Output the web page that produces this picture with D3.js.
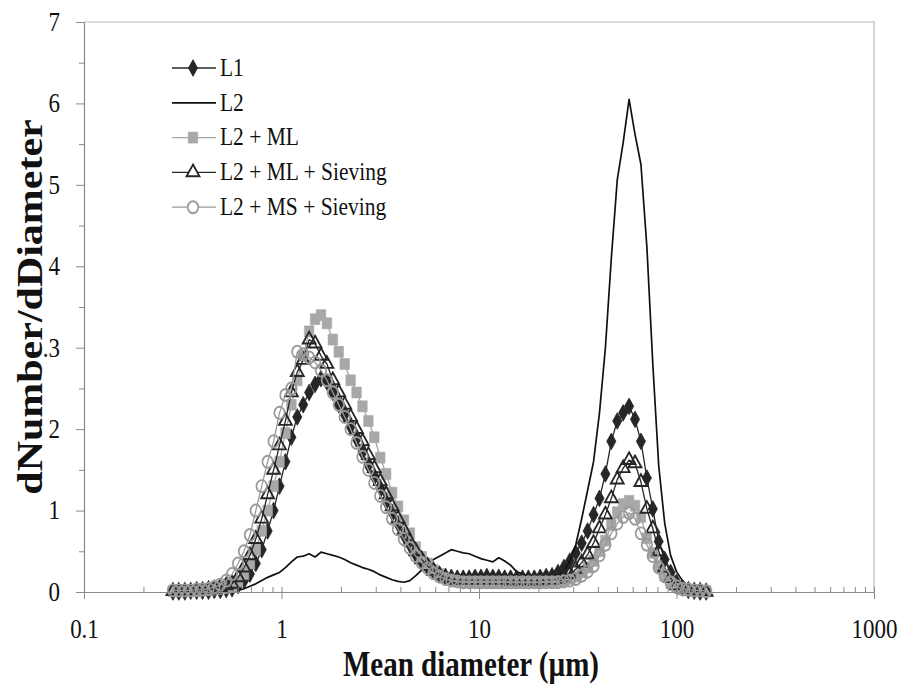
<!DOCTYPE html>
<html>
<head>
<meta charset="utf-8">
<script src="https://cdn.jsdelivr.net/npm/d3@7"></script>
<style>
  html, body { margin: 0; padding: 0; background: #fff; }
  svg { display: block; }
  text { font-family: "Liberation Serif", "Times New Roman", serif; fill: #111; }
</style>
</head>
<body>
<div id="chart"></div>
<script>

// size bins (µm), shared by every series
const diameters = [
  0.282, 0.302, 0.324, 0.347, 0.372, 0.398, 0.427, 0.457, 0.490, 0.525,
  0.562, 0.603, 0.646, 0.692, 0.741, 0.794, 0.851, 0.912, 0.977, 1.047,
  1.122, 1.202, 1.288, 1.380, 1.479, 1.585, 1.698, 1.820, 1.950, 2.089,
  2.239, 2.399, 2.570, 2.754, 2.951, 3.162, 3.388, 3.631, 3.890, 4.169,
  4.467, 4.786, 5.129, 5.495, 5.888, 6.310, 6.761, 7.244, 7.762, 8.318,
  8.913, 9.550, 10.23, 10.96, 11.75, 12.59, 13.49, 14.45, 15.49, 16.60,
  17.78, 19.05, 20.42, 21.88, 23.44, 25.12, 26.92, 28.84, 30.90, 33.11,
  35.48, 38.02, 40.74, 43.65, 46.77, 50.12, 53.70, 57.54, 61.66, 66.07,
  70.79, 75.86, 81.28, 87.10, 93.33, 100.0, 107.2, 114.8, 123.0, 131.8, 141.3
]

// L1 (filled diamonds)
const l1 = [
  0, 0, 0, 0.01, 0.01, 0.01, 0.01, 0.02, 0.02, 0.03,
  0.04, 0.08, 0.14, 0.22, 0.35, 0.52, 0.75, 1.0, 1.3, 1.6,
  1.9, 2.15, 2.3, 2.45, 2.55, 2.62, 2.58, 2.45, 2.3, 2.18,
  2.03, 1.88, 1.72, 1.56, 1.42, 1.28, 1.12, 0.98, 0.84, 0.7,
  0.58, 0.46, 0.37, 0.3, 0.25, 0.21, 0.19, 0.18, 0.17, 0.17,
  0.17, 0.18, 0.18, 0.19, 0.18, 0.18, 0.17, 0.17, 0.17, 0.17,
  0.17, 0.17, 0.18, 0.19, 0.2, 0.24, 0.3, 0.38, 0.48, 0.6,
  0.75, 0.95, 1.15, 1.45, 1.85, 2.1, 2.2, 2.28, 2.12, 1.85,
  1.4, 1.02, 0.62, 0.4, 0.24, 0.12, 0.05, 0.02, 0.01, 0, 0
]

// L2 (plain line)
const l2 = [
  null, null, null, null, null, null, null, null, null, 0,
  0.01, 0.02, 0.04, 0.07, 0.1, 0.14, 0.18, 0.21, 0.24, 0.3,
  0.37, 0.43, 0.44, 0.47, 0.43, 0.49, 0.47, 0.45, 0.43, 0.4,
  0.36, 0.33, 0.3, 0.28, 0.25, 0.21, 0.18, 0.15, 0.13, 0.12,
  0.14, 0.2, 0.27, 0.34, 0.4, 0.44, 0.48, 0.52, 0.5, 0.48,
  0.47, 0.44, 0.41, 0.39, 0.37, 0.42, 0.38, 0.33, 0.25, 0.22,
  0.2, 0.18, 0.17, 0.16, 0.17, 0.2, 0.26, 0.38, 0.58, 0.9,
  1.25, 1.6, 2.2, 3.0, 4.1, 5.06, 5.52, 6.05, 5.62, 5.25,
  4.24, 2.8, 1.55, 0.85, 0.45, 0.25, 0.14, 0.07, 0.03, 0, null
]

// L2 + ML (grey squares)
const l2Ml = [
  0.01, 0.01, 0.01, 0.01, 0.01, 0.02, 0.02, 0.03, 0.04, 0.05,
  0.07, 0.13, 0.22, 0.35, 0.52, 0.75, 1.0, 1.3, 1.6, 1.95,
  2.3, 2.6, 2.9, 3.2, 3.35, 3.4, 3.3, 3.1, 2.95, 2.8,
  2.6, 2.45, 2.28, 2.1, 1.9, 1.65, 1.45, 1.22, 1.05, 0.88,
  0.72, 0.55, 0.43, 0.35, 0.27, 0.22, 0.18, 0.15, 0.13, 0.12,
  0.12, 0.12, 0.11, 0.11, 0.11, 0.11, 0.11, 0.11, 0.11, 0.11,
  0.11, 0.11, 0.11, 0.12, 0.12, 0.13, 0.14, 0.16, 0.19, 0.24,
  0.3, 0.38, 0.5, 0.63, 0.82, 0.98, 1.08, 1.12, 1.06, 0.92,
  0.66, 0.48, 0.32, 0.2, 0.11, 0.06, 0.03, 0.02, 0.01, 0.01, 0.01
]

// L2 + ML + Sieving (open triangles)
const l2MlSieving = [
  0.01, 0.01, 0.01, 0.01, 0.02, 0.02, 0.03, 0.04, 0.06, 0.08,
  0.1, 0.18, 0.3, 0.45, 0.65, 0.9, 1.2, 1.5, 1.8, 2.1,
  2.45, 2.7, 2.85, 3.1, 3.05, 2.9, 2.8, 2.6, 2.45, 2.3,
  2.15, 2.0, 1.85, 1.68, 1.52, 1.36, 1.2, 1.05, 0.9, 0.76,
  0.62, 0.5, 0.4, 0.32, 0.26, 0.21, 0.18, 0.16, 0.15, 0.15,
  0.15, 0.15, 0.15, 0.15, 0.15, 0.15, 0.15, 0.14, 0.14, 0.14,
  0.14, 0.14, 0.14, 0.15, 0.15, 0.16, 0.18, 0.22, 0.28, 0.36,
  0.46, 0.6, 0.78, 0.95, 1.15, 1.38, 1.52, 1.62, 1.58, 1.35,
  1.02, 0.78, 0.5, 0.3, 0.17, 0.08, 0.04, 0.02, 0.01, 0.01, 0
]

// L2 + MS + Sieving (open circles)
const l2MsSieving = [
  0.02, 0.02, 0.02, 0.02, 0.03, 0.03, 0.04, 0.06, 0.09, 0.14,
  0.22, 0.35, 0.5, 0.7, 1.0, 1.3, 1.6, 1.85, 2.2, 2.42,
  2.5, 2.95, 2.92, 2.88, 2.82, 2.72, 2.6, 2.45, 2.3, 2.15,
  2.0, 1.83, 1.66, 1.5, 1.34, 1.18, 1.04, 0.9, 0.77, 0.65,
  0.54, 0.44, 0.36, 0.29, 0.23, 0.19, 0.16, 0.14, 0.13, 0.12,
  0.12, 0.12, 0.12, 0.12, 0.12, 0.12, 0.12, 0.12, 0.12, 0.12,
  0.12, 0.12, 0.12, 0.12, 0.12, 0.12, 0.13, 0.14, 0.16, 0.2,
  0.25, 0.32, 0.45, 0.58, 0.72, 0.84, 0.92, 0.97, 0.9, 0.72,
  0.58, 0.44, 0.3, 0.2, 0.12, 0.07, 0.04, 0.03, 0.02, 0.02, 0.01
]

// tick labels (the ".3" is as printed in the figure)
const xTicks = [0.1, 1, 10, 100, 1000]
const xTickLabels = ['0.1', '1', '10', '100', '1000']
const yTicks = [0, 1, 2, 3, 4, 5, 6, 7]
const yTickLabels = ['0', '1', '2', '.3', '4', '5', '6', '7']

const seriesNames = ['L1', 'L2', 'L2 + ML', 'L2 + ML + Sieving', 'L2 + MS + Sieving']
const xTitle = 'Mean diameter (\u00b5m)'
const yTitle = 'dNumber/dDiameter'



const width = 901,
  height = 684,
  plotLeft = 84, plotRight = 874, plotTop = 22, plotBottom = 592,
  stretch = 1.2            // the scan is taller than it is wide; text follows that

const x = d3.scaleLog().domain([0.1, 1000]).range([plotLeft, plotRight])
const y = d3.scaleLinear().domain([0, 7]).range([plotBottom, plotTop])

const svg = d3.select('#chart').append('svg')
  .attr('width', width)
  .attr('height', height)

svg.append('rect').attr('width', width).attr('height', height).attr('fill', '#fff')

// frame: top + right in light grey
svg.append('path')
  .attr('d', `M${plotLeft},${plotTop}H${plotRight}V${plotBottom}`)
  .attr('fill', 'none')
  .attr('stroke', '#b8b8b8')
  .attr('stroke-width', 1.2)


// style settings per series
const styles = [
  { data: l1, line: '#262626', lw: 1.3, symbol: d3.symbolDiamond, size: 72, fill: '#262626', stroke: '#262626', sw: 0.8, sy: 1.05 },
  { data: l2, line: '#111', lw: 1.7, symbol: null },
  { data: l2Ml, line: '#a6a6a6', lw: 1.3, symbol: d3.symbolSquare, size: 92, fill: '#a8a8a8', stroke: '#a8a8a8', sw: 0.5, sy: 1.15 },
  { data: l2MlSieving, line: '#262626', lw: 1.3, symbol: d3.symbolTriangle, size: 72, fill: 'none', stroke: '#262626', sw: 1.8, sy: 1.05 },
  { data: l2MsSieving, line: '#9a9a9a', lw: 1.3, symbol: d3.symbolCircle, size: 86, fill: 'none', stroke: '#999', sw: 1.7, sy: 1.15 }
]

const line = d3.line()
  .defined(d => d[1] !== null)
  .x(d => x(d[0]))
  .y(d => y(d[1]))


// series
styles.forEach(s => {
  const pts = diameters.map((d, i) => [d, s.data[i]])
  const g = svg.append('g')

  g.append('path')
    .attr('d', line(pts))
    .attr('fill', 'none')
    .attr('stroke', s.line)
    .attr('stroke-width', s.lw)
    .attr('stroke-linejoin', 'round')

  if(!s.symbol) return

  g.selectAll('path.m')
    .data(pts.filter(d => d[1] !== null))
    .join('path')
    .attr('class', 'm')
    .attr('d', d3.symbol().type(s.symbol).size(s.size))
    .attr('transform', d => `translate(${x(d[0])},${y(d[1])}) scale(1,${s.sy})`)
    .attr('fill', s.fill)
    .attr('stroke', s.stroke)
    .attr('stroke-width', s.sw)
})


///////////////////////////////////////////////////////////////////////////////
//// AXES
///////////////////////////////////////////////////////////////////////////////

const axisColor = '#8a8a8a'

// y axis, major + minor ticks pointing out
const yAxis = svg.append('g')
  .attr('transform', `translate(${plotLeft},0)`)
  .call(d3.axisLeft(y).tickValues(yTicks).tickFormat((d, i) => yTickLabels[i]).tickSize(8).tickSizeOuter(0).tickPadding(16))

yAxis.select('.domain').attr('stroke', axisColor).attr('stroke-width', 1.2)
yAxis.selectAll('line').attr('stroke', axisColor)
yAxis.selectAll('text')
  .attr('font-size', 23)
  .attr('dy', 0)
  .attr('y', 7)
  .attr('transform', `scale(1,${stretch})`)

svg.append('g')
  .attr('transform', `translate(${plotLeft},0)`)
  .call(d3.axisLeft(y).tickValues(yTicks.slice(0, -1).map(v => v + 0.5)).tickFormat('').tickSize(5))
  .call(g => g.select('.domain').remove())
  .selectAll('line').attr('stroke', axisColor)


// x axis, decade ticks cross the line, minor ticks point in
const minorX = []
for(let p = 0.1; p < 1000; p *= 10)
  for(let k = 2; k <= 9; k++) minorX.push(+(p * k).toPrecision(3))

const xAxis = svg.append('g')
  .attr('transform', `translate(0,${plotBottom})`)
  .call(d3.axisBottom(x).tickValues(xTicks).tickFormat((d, i) => xTickLabels[i]).tickSize(7).tickSizeOuter(0))

xAxis.select('.domain').attr('stroke', axisColor).attr('stroke-width', 1.2)
xAxis.selectAll('line').attr('stroke', axisColor)
xAxis.selectAll('text')
  .attr('font-size', 23)
  .attr('dy', 0)
  .attr('y', 38.5)
  .attr('transform', `scale(1,${stretch})`)

svg.append('g')
  .attr('transform', `translate(0,${plotBottom})`)
  .call(d3.axisTop(x).tickValues(xTicks.concat(minorX)).tickFormat('').tickSize(5))
  .call(g => g.select('.domain').remove())
  .selectAll('line').attr('stroke', axisColor)


// axis titles
svg.append('text')
  .attr('transform', `translate(${(plotLeft + plotRight) / 2 - 8},${676}) scale(1,${stretch})`)
  .attr('text-anchor', 'middle')
  .attr('font-size', 29)
  .attr('font-weight', 'bold')
  .text(xTitle)

svg.append('text')
  .attr('transform', `translate(42,${(plotTop + plotBottom) / 2}) rotate(-90) scale(1.2,1)`)
  .attr('text-anchor', 'middle')
  .attr('font-size', 35)
  .attr('font-weight', 'bold')
  .text(yTitle)


///////////////////////////////////////////////////////////////////////////////
//// LEGEND
///////////////////////////////////////////////////////////////////////////////

const legend = svg.append('g')

styles.forEach((s, i) => {
  const ly = 68 + i * 34.8
  const row = legend.append('g').attr('transform', `translate(0,${ly})`)

  row.append('line')
    .attr('x1', 172).attr('x2', 216)
    .attr('stroke', s.line)
    .attr('stroke-width', s.lw)

  if(s.symbol)
    row.append('path')
      .attr('d', d3.symbol().type(s.symbol).size(s.size))
      .attr('transform', `translate(193,0) scale(1,${s.sy})`)
      .attr('fill', s.fill === 'none' ? '#fff' : s.fill)
      .attr('stroke', s.stroke)
      .attr('stroke-width', s.sw)

  row.append('text')
    .attr('x', 220)
    .attr('y', 6.5)
    .attr('font-size', 21.5)
    .attr('transform', `scale(1,${stretch})`)
    .text(seriesNames[i])
})

</script>
</body>
</html>
